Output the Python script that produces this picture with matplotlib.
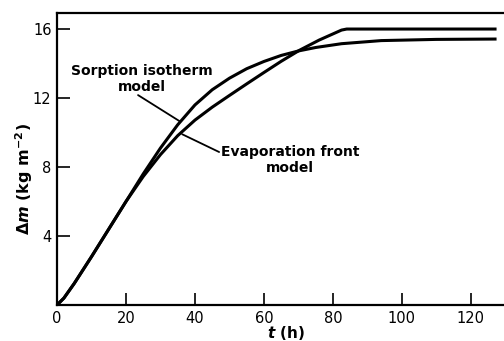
import numpy as np
import matplotlib.pyplot as plt

plt.rcParams['font.family'] = 'DejaVu Sans'
plt.rcParams['mathtext.fontset'] = 'custom'
plt.rcParams['mathtext.it'] = 'DejaVu Sans:italic:bold'
plt.rcParams['mathtext.rm'] = 'DejaVu Sans:bold'
plt.rcParams['mathtext.bf'] = 'DejaVu Sans:bold'

# time (h) and mass change (kg m^-2)
t_sorption = [0, 2, 5, 10, 15, 20, 25, 30, 35, 40, 45, 50, 55, 60, 65, 70, 75, 82.5, 94, 110, 127]
m_sorption = [0, 0.4, 1.25, 2.8, 4.4, 6.0, 7.6, 9.1, 10.45, 11.6, 12.48, 13.15, 13.7, 14.12, 14.47, 14.73, 14.93, 15.15, 15.33, 15.4, 15.42]

t_evap = [0, 2, 5, 10, 15, 20, 25, 30, 35, 40, 45, 50, 55, 60, 65, 70.4, 76, 82.5, 84, 127]
m_evap = [0, 0.4, 1.25, 2.8, 4.4, 6.0, 7.45, 8.72, 9.82, 10.72, 11.47, 12.15, 12.82, 13.48, 14.13, 14.78, 15.36, 15.94, 16.0, 16.0]

xticks = [0, 20, 40, 60, 80, 100, 120]
yticks = [4, 8, 12, 16]

fig = plt.figure(figsize=(5.04, 3.41), dpi=100)
ax = fig.add_axes([57/504, 1 - 305/341, 1 - 57/504, (305 - 13)/341])

ax.plot(t_sorption, m_sorption, color='black', lw=2.2, solid_joinstyle='round')
ax.plot(t_evap, m_evap, color='black', lw=2.2, solid_joinstyle='round')

ax.set_xlim(0, 129.6)
ax.set_ylim(0, 16.93)
ax.set_xticks(xticks)
ax.set_yticks(yticks)
ax.tick_params(direction='in', length=9, width=1.2, labelsize=10.5, pad=4)
for s in ['left', 'bottom', 'top']:
    ax.spines[s].set_linewidth(1.6)
ax.spines['right'].set_visible(False)

# labels with leader lines
ax.text(24.6, 13.1, "Sorption isotherm\nmodel", ha='center', va='center',
        fontsize=10, fontweight='bold', linespacing=1.25)
ax.annotate("", xy=(35.6, 10.65), xytext=(23.5, 12.17),
            arrowprops=dict(arrowstyle='-', lw=1.3, color='black', shrinkA=0, shrinkB=0))
ax.text(67.5, 8.4, "Evaporation front\nmodel", ha='center', va='center',
        fontsize=10, fontweight='bold', linespacing=1.25)
ax.annotate("", xy=(36.3, 9.9), xytext=(47.0, 8.87),
            arrowprops=dict(arrowstyle='-', lw=1.3, color='black', shrinkA=0, shrinkB=0))

fig.text(24/504, 1 - 179/341, r"$\Delta\mathit{m}$ (kg m$^{-2}$)", rotation=90,
         ha='center', va='center', fontsize=11.5, fontweight='bold')
fig.text(286/504, 1 - 333/341, r"$t$ (h)", ha='center', va='center',
         fontsize=11, fontweight='bold')

fig.savefig("out.png", dpi=100)
